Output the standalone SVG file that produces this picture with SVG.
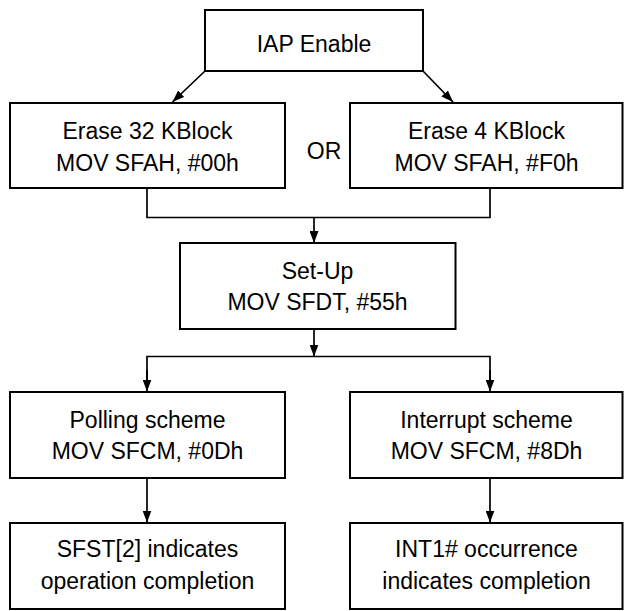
<svg xmlns="http://www.w3.org/2000/svg" width="624" height="611" viewBox="0 0 624 611">
<style>
.box{fill:#fff;stroke:#000;stroke-width:2}
.t{font-family:"Liberation Sans",Arial,sans-serif;font-size:23px;fill:#000;text-anchor:middle}
.c{fill:none;stroke:#000;stroke-width:1.7}
</style>
<defs>
<marker id="ah" viewBox="0 0 12 9" refX="12" refY="4.5" markerWidth="12" markerHeight="9" markerUnits="userSpaceOnUse" orient="auto">
<path d="M0,0 L12,4.5 L0,9 Z" fill="#000"/>
</marker>
</defs>
<rect width="624" height="611" fill="#fff"/>
<g id="connectors">
<line class="c" x1="205" y1="71" x2="172.5" y2="102" marker-end="url(#ah)"/>
<line class="c" x1="423" y1="71" x2="453" y2="102" marker-end="url(#ah)"/>
<polyline class="c" points="147,188 147,217.5 490,217.5 490,188"/>
<line class="c" x1="314" y1="217.5" x2="314" y2="243" marker-end="url(#ah)"/>
<line class="c" x1="314" y1="329" x2="314" y2="356.5" marker-end="url(#ah)"/>
<polyline class="c" points="147,380 147,356.5 490,356.5 490,380"/>
<line class="c" x1="147" y1="370" x2="147" y2="391.5" marker-end="url(#ah)"/>
<line class="c" x1="490" y1="370" x2="490" y2="391.5" marker-end="url(#ah)"/>
<line class="c" x1="147" y1="478" x2="147" y2="522.5" marker-end="url(#ah)"/>
<line class="c" x1="490" y1="478" x2="490" y2="522.5" marker-end="url(#ah)"/>
</g>
<g id="iap">
<rect class="box" x="205" y="10" width="218" height="61"/>
<text class="t" x="314" y="52">IAP Enable</text>
</g>
<g id="erase32">
<rect class="box" x="10" y="103" width="275" height="85"/>
<text class="t" x="147.5" y="138.5">Erase 32 KBlock</text>
<text class="t" x="147.5" y="171">MOV SFAH, #00h</text>
</g>
<g id="or">
<text class="t" x="324" y="158.5">OR</text>
</g>
<g id="erase4">
<rect class="box" x="350" y="103" width="272.5" height="85"/>
<text class="t" x="486.5" y="138.5">Erase 4 KBlock</text>
<text class="t" x="486.5" y="171">MOV SFAH, #F0h</text>
</g>
<g id="setup">
<rect class="box" x="180" y="243" width="275.5" height="86"/>
<text class="t" x="317.5" y="278.5">Set-Up</text>
<text class="t" x="317.5" y="309.5">MOV SFDT, #55h</text>
</g>
<g id="polling">
<rect class="box" x="10" y="392" width="275" height="86"/>
<text class="t" x="147.5" y="427.5">Polling scheme</text>
<text class="t" x="147.5" y="459">MOV SFCM, #0Dh</text>
</g>
<g id="interrupt">
<rect class="box" x="350" y="392" width="272.5" height="86"/>
<text class="t" x="486.5" y="427.5">Interrupt scheme</text>
<text class="t" x="486.5" y="459">MOV SFCM, #8Dh</text>
</g>
<g id="sfst">
<rect class="box" x="10" y="523" width="275" height="86"/>
<text class="t" x="147.5" y="557">SFST[2] indicates</text>
<text class="t" x="147.5" y="588.5">operation completion</text>
</g>
<g id="int1">
<rect class="box" x="350" y="523" width="272.5" height="86"/>
<text class="t" x="486.5" y="557">INT1# occurrence</text>
<text class="t" x="486.5" y="588.5">indicates completion</text>
</g>
</svg>
